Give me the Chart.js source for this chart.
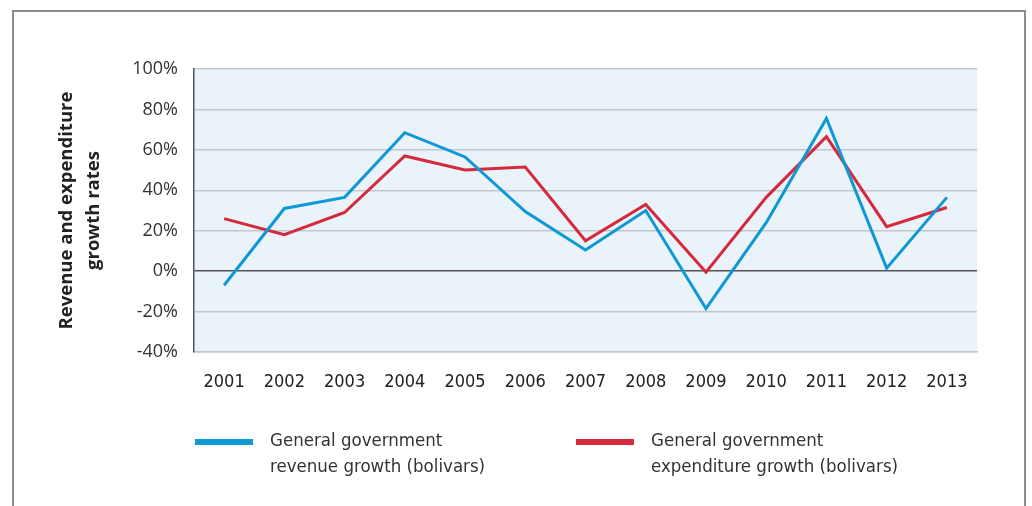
<!DOCTYPE html>
<html>
<head>
<meta charset="utf-8">
<script src="https://cdn.jsdelivr.net/npm/chart.js@4.4.1/dist/chart.umd.min.js"></script>
<style>
  body { margin: 0; background: #fff; }
  #wrap { position: relative; width: 1032px; height: 506px; overflow: hidden; }
  #frame { position: absolute; left: 12px; top: 10px; width: 1014px; height: 520px; border: 2px solid #8c8c8c; box-sizing: border-box; }
  canvas { position: absolute; left: 0; top: 0; }
  #legend { position: absolute; left: 195px; top: 427px; display: flex; }
  .item { display: flex; align-items: flex-start; }
  .swatch { width: 58px; height: 6px; margin-top: 12px; margin-right: 17px; }
  .label { font-family: "Liberation Sans Narrow", "DejaVu Sans Condensed", "Roboto", sans-serif; font-size: 18.5px; line-height: 26px; color: #333; }
</style>
</head>
<body>
<div id="wrap">
  <div id="frame"></div>
  <canvas id="chart" width="1032" height="506"></canvas>
  <div id="legend"></div>
</div>
<script>
let years = ["2001", "2002", "2003", "2004", "2005", "2006", "2007", "2008", "2009", "2010", "2011", "2012", "2013"];
let revenue = [-7, 31, 36.5, 68.5, 56.5, 29.5, 10.5, 30, -18.5, 24, 75.5, 1.5, 36.5];
let expenditure = [26, 18, 29, 57, 50, 51.5, 15, 33, -0.5, 36.5, 66.5, 22, 31.5];
let series_labels = [
    ["General government", "revenue growth (bolivars)"],
    ["General government", "expenditure growth (bolivars)"]
];
let series_colors = ["#0f98d6", "#d42a3c"];
let y_title = ["Revenue and expenditure", "growth rates"];

let plot_bg = {
    id: "plot_bg",
    beforeDraw(chart) {
        let a = chart.chartArea;
        let ctx = chart.ctx;
        ctx.save();
        ctx.fillStyle = "#eaf2fa";
        ctx.fillRect(a.left, a.top, a.right - a.left, a.bottom - a.top);
        ctx.restore();
    }
};

let ctx = document.getElementById("chart");
let chart = new Chart(ctx, {
    type: "line",
    data: {
        labels: years,
        datasets: [{
            label: series_labels[0].join(" "),
            data: revenue,
            borderColor: series_colors[0],
            borderWidth: 3,
            pointRadius: 0,
            tension: 0,
            fill: false
        }, {
            label: series_labels[1].join(" "),
            data: expenditure,
            borderColor: series_colors[1],
            borderWidth: 3,
            pointRadius: 0,
            tension: 0,
            fill: false
        }]
    },
    options: {
        responsive: false,
        animation: false,
        layout: { padding: { left: 0, top: 69, right: 55, bottom: 0 } },
        plugins: {
            legend: { display: false },
            tooltip: { enabled: false }
        },
        scales: {
            x: {
                offset: true,
                grid: { display: false, drawTicks: false },
                border: { color: "#c3c7cd", width: 1.5 },
                ticks: {
                    padding: 20,
                    color: "#222",
                    font: { family: "'Liberation Sans Narrow', 'DejaVu Sans Condensed', Roboto, sans-serif", size: 18 }
                },
                afterFit(scale) { scale.height = 154; }
            },
            y: {
                min: -40,
                max: 100,
                ticks: {
                    stepSize: 20,
                    padding: 16,
                    color: "#333",
                    font: { family: "'Open Sans', Lato, sans-serif", size: 18 },
                    callback: (v) => v + "%"
                },
                grid: {
                    drawTicks: false,
                    lineWidth: 1.5,
                    color: (c) => c.tick && c.tick.value === 0 ? "#555" : "#c3c7cd"
                },
                border: { color: "#555", width: 1.5 },
                title: {
                    display: true,
                    text: y_title,
                    color: "#222",
                    padding: { top: 53, bottom: 0 },
                    font: { family: "'Open Sans', Lato, sans-serif", size: 18.5, weight: "bold", lineHeight: 1.45 }
                },
                afterFit(scale) { scale.width = 194; }
            }
        }
    },
    plugins: [plot_bg]
});

let legend = document.getElementById("legend");
let item_widths = [381, 400];
for (let i = 0; i < series_labels.length; i++) {
    let item = document.createElement("div");
    item.className = "item";
    item.style.width = item_widths[i] + "px";
    item.innerHTML = '<div class="swatch" style="background:' + series_colors[i] + '"></div>' +
        '<div class="label">' + series_labels[i].join("<br>") + '</div>';
    legend.appendChild(item);
}
</script>
</body>
</html>
